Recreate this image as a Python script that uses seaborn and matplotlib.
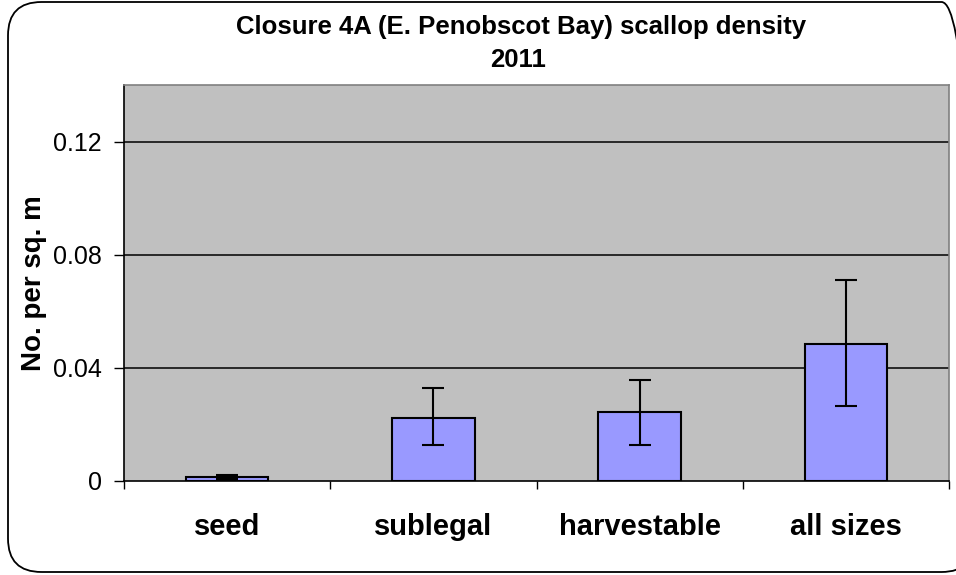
import matplotlib
matplotlib.use("Agg")
import matplotlib.pyplot as plt
from matplotlib.patches import FancyBboxPatch
from matplotlib.ticker import FixedLocator, NullFormatter
import seaborn as sns
import pandas as pd

categories = ["seed", "sublegal", "harvestable", "all sizes"]
density = [0.0014, 0.0223, 0.0244, 0.0485]
err_low = [0.0007, 0.0126, 0.0126, 0.0265]
err_high = [0.0021, 0.0330, 0.0358, 0.0711]
y_ticks = [0, 0.04, 0.08, 0.12]
y_tick_labels = ["0", "0.04", "0.08", "0.12"]
title_lines = ["Closure 4A (E. Penobscot Bay) scallop density", "2011"]

sns.set_theme(style="white")
plt.rcParams["font.family"] = ["Liberation Sans", "DejaVu Sans"]
plt.rcParams.update({"text.color": "black", "axes.labelcolor": "black",
                     "xtick.color": "black", "ytick.color": "black"})

W, H = 956, 575
fig = plt.figure(figsize=(W / 100, H / 100), dpi=100)

# rounded chart frame
frame = FancyBboxPatch((8 / W, 3 / H), (975 - 8) / W, (573 - 3) / H,
                       boxstyle="round,pad=0,rounding_size=0.035",
                       transform=fig.transFigure, fill=False,
                       edgecolor="black", linewidth=1.3, clip_on=False,
                       mutation_aspect=W / H)
fig.patches.append(frame)

ax = fig.add_axes([124 / W, 1 - 481 / H, (949 - 124) / W, (481 - 85) / H])
ax.set_facecolor("#C0C0C0")

df = pd.DataFrame({"category": categories, "density": density})
sns.barplot(data=df, x="category", y="density", ax=ax, color="#9999FF",
            saturation=1, width=0.4, edgecolor="black", linewidth=1.5,
            errorbar=None, zorder=3)

yerr = [[d - lo for d, lo in zip(density, err_low)],
        [hi - d for d, hi in zip(density, err_high)]]
ax.errorbar(range(len(categories)), density, yerr=yerr, fmt="none",
            ecolor="black", elinewidth=1.5, capsize=8, capthick=1.5, zorder=4)

ax.set_ylim(0, 0.14)
ax.set_xlim(-0.5, len(categories) - 0.5)
ax.set_yticks(y_ticks)
ax.set_yticklabels(y_tick_labels, fontsize=18, color="black")
for y in y_ticks[1:]:
    ax.axhline(y, color="black", linewidth=1.1, zorder=1)

ax.tick_params(axis="y", direction="out", length=7, width=1, color="black",
               pad=9, left=True)
ax.tick_params(axis="x", which="major", length=0, pad=23)
ax.xaxis.set_minor_locator(FixedLocator([i - 0.5 for i in range(len(categories) + 1)]))
ax.xaxis.set_minor_formatter(NullFormatter())
ax.tick_params(axis="x", which="minor", direction="out", length=6, width=1,
               color="black", bottom=True)
for lbl in ax.get_xticklabels():
    lbl.set_fontsize(21)
    lbl.set_fontweight("bold")
    lbl.set_color("black")

ax.set_xlabel("")
ax.set_ylabel("No. per sq. m", fontsize=20, fontweight="bold", color="black")
ax.yaxis.set_label_coords(-0.093, 0.5)

for side in ["left", "bottom"]:
    ax.spines[side].set_color("black")
    ax.spines[side].set_linewidth(1.2)
for side in ["top", "right"]:
    ax.spines[side].set_color("#808080")
    ax.spines[side].set_linewidth(1.2)

fig.text(521 / W, 1 - 34 / H, title_lines[0], ha="center", va="baseline",
         fontsize=18.5, fontweight="bold", color="black")
fig.text(518 / W, 1 - 67 / H, title_lines[1], ha="center", va="baseline",
         fontsize=18.5, fontweight="bold", color="black")

fig.savefig("out.png", dpi=100)
